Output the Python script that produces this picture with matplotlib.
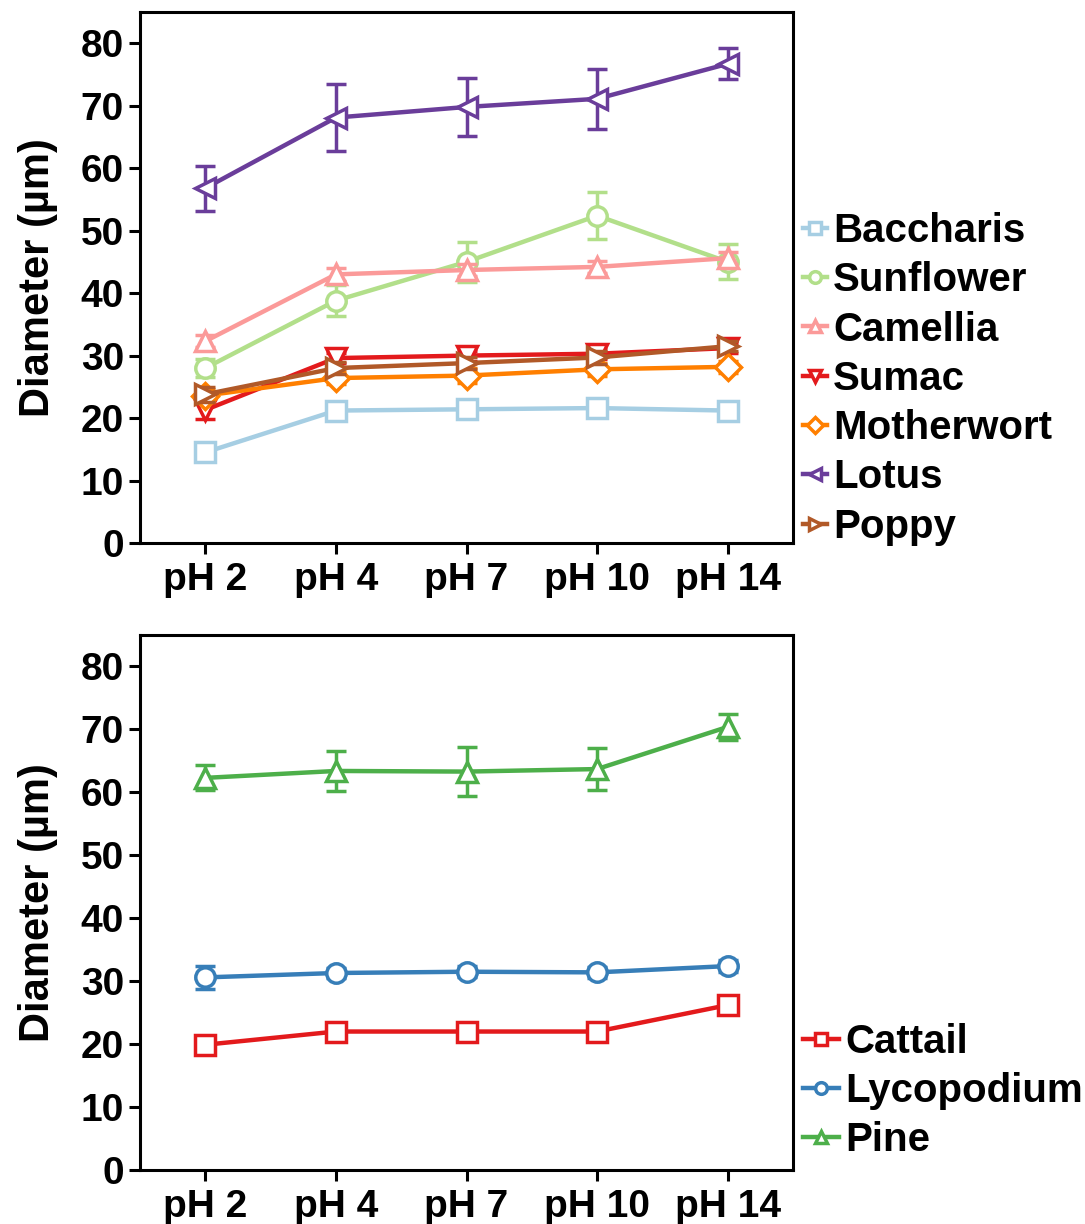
import numpy as np
import matplotlib
matplotlib.use("Agg")
import matplotlib.pyplot as plt

plt.rcParams['font.family'] = ['Liberation Sans', 'DejaVu Sans']
plt.rcParams['font.weight'] = 'bold'

ph_labels = ["pH 2", "pH 4", "pH 7", "pH 10", "pH 14"]

# top panel
top_names = ["Baccharis", "Sunflower", "Camellia", "Sumac", "Motherwort", "Lotus", "Poppy"]
baccharis = [14.5, 21.2, 21.4, 21.6, 21.2]
baccharis_err = [0.9, 0.7, 0.7, 0.8, 0.8]
sunflower = [28.0, 38.8, 45.0, 52.4, 45.0]
sunflower_err = [1.5, 2.5, 3.2, 3.8, 2.8]
camellia = [32.3, 43.0, 43.7, 44.2, 45.6]
camellia_err = [1.0, 1.0, 1.0, 1.0, 1.0]
sumac = [21.3, 29.6, 30.0, 30.3, 31.2]
sumac_err = [1.5, 0.8, 0.8, 0.8, 0.8]
motherwort = [23.6, 26.4, 26.8, 27.8, 28.2]
motherwort_err = [1.0, 1.0, 1.2, 1.0, 1.0]
lotus = [56.8, 68.1, 69.8, 71.1, 76.7]
lotus_err = [3.6, 5.3, 4.6, 4.8, 2.5]
poppy = [23.8, 28.0, 28.8, 29.7, 31.5]
poppy_err = [1.2, 1.0, 1.0, 1.0, 0.8]
top_vals = [baccharis, sunflower, camellia, sumac, motherwort, lotus, poppy]
top_errs = [baccharis_err, sunflower_err, camellia_err, sumac_err, motherwort_err, lotus_err, poppy_err]
top_colors = ["#a6cee3", "#b2df8a", "#fb9a99", "#e31a1c", "#ff7f00", "#6a3d9a", "#b15928"]
top_markers = ["s", "o", "^", "v", "D", "<", ">"]

# bottom panel
bot_names = ["Cattail", "Lycopodium", "Pine"]
cattail = [19.9, 22.0, 22.0, 22.0, 26.2]
cattail_err = [0.8, 0.7, 0.7, 0.7, 0.8]
lycopodium = [30.6, 31.3, 31.5, 31.4, 32.4]
lycopodium_err = [1.8, 0.8, 0.9, 0.9, 0.9]
pine = [62.3, 63.4, 63.3, 63.7, 70.4]
pine_err = [2.0, 3.2, 3.9, 3.3, 2.1]
bot_vals = [cattail, lycopodium, pine]
bot_errs = [cattail_err, lycopodium_err, pine_err]
bot_colors = ["#e31a1c", "#377eb8", "#4daf4a"]
bot_markers = ["s", "o", "^"]

x = np.arange(len(ph_labels))

fig = plt.figure(figsize=(10.85, 12.24), dpi=100)
W, H = 1085., 1224.
ax1 = fig.add_axes([140/W, 1-543/H, 653/W, 531/H])
ax2 = fig.add_axes([140/W, 1-1170/H, 653/W, 535/H])


def draw(ax, names, vals, errs, colors, markers, legy, hl):
    for n, v, e, c, m in zip(names, vals, errs, colors, markers):
        ms = 13 if m == "D" else 14
        ax.errorbar(x, v, yerr=e, fmt="none", ecolor=c, elinewidth=2.5,
                    capsize=7, capthick=2.5)
        ax.plot(x, v, color=c, lw=3.2, marker=m, ms=ms, mfc="white",
                mec=c, mew=2.5, label=n)
    ax.set_xlim(-0.5, 4.5)
    ax.set_ylim(0, 85)
    ax.set_yticks(range(0, 81, 10))
    ax.set_xticks(x)
    ax.set_xticklabels(ph_labels)
    ax.tick_params(axis="both", labelsize=28, width=2.2, length=8, direction="out")
    ax.tick_params(axis="x", pad=6)
    for sp in ax.spines.values():
        sp.set_linewidth(2.2)
    ax.set_ylabel("Diameter (µm)", fontsize=30, fontweight="bold", labelpad=16)
    ax.legend(loc="lower left", bbox_to_anchor=(1.015, legy), frameon=False,
              fontsize=29, handlelength=hl, handletextpad=0.15,
              labelspacing=0.28, borderaxespad=0, borderpad=0, markerscale=0.6)


draw(ax1, top_names, top_vals, top_errs, top_colors, top_markers, -0.005, 0.6)
draw(ax2, bot_names, bot_vals, bot_errs, bot_colors, bot_markers, 0.02, 0.9)

fig.savefig("out.png", dpi=100)
